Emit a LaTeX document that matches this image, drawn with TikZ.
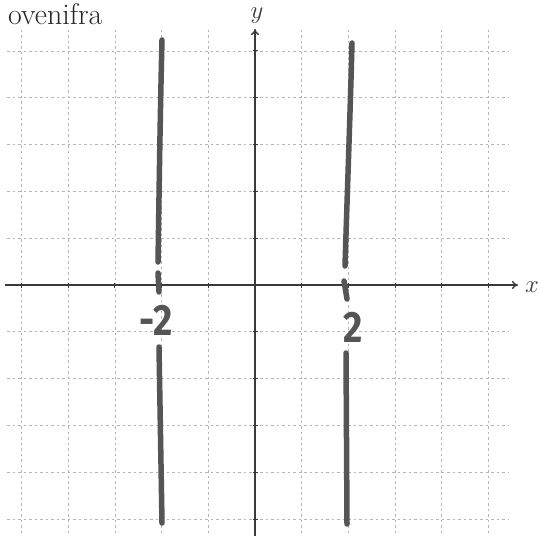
\documentclass[tikz,border=0pt]{standalone}
\usepackage{fontspec}
\newfontfamily\handfont{Fira Sans}
\usetikzlibrary{arrows.meta}
\definecolor{gridgray}{HTML}{B4B4B4}
\definecolor{axisgray}{HTML}{3A3A3A}
\definecolor{penGray}{HTML}{555555}
\tikzset{
  gridline/.style={gridgray, line width=0.8bp, dash pattern=on 2.5bp off 3bp},
  axisline/.style={axisgray, line width=1.4bp, -{To[length=6bp,width=8bp]}},
  tickline/.style={axisgray, line width=1bp},
  penline/.style={penGray, line width=5.5bp, line cap=round},
  handlabel/.style={penGray, inner sep=0pt, font=\handfont\bfseries\fontsize{44}{48}\selectfont},
  axislabel/.style={axisgray, inner sep=0pt, font=\fontsize{26}{30}\selectfont},
  titlelabel/.style={black!85, inner sep=0pt, anchor=base west, font=\fontsize{30}{34}\selectfont}
}
\begin{document}
\begin{tikzpicture}[x=1bp,y=-1bp]
\useasboundingbox[fill=white] (0,0) rectangle (539,537);
% grid
\foreach \k in {-5,...,5} {
  \draw[gridline] ({255+46.7*\k},30) -- ({255+46.7*\k},536);
  \draw[gridline] (7,{285+46.8*\k}) -- (508,{285+46.8*\k});
}
% axes
\coordinate (xs) at (5,285);
\coordinate (xe) at (518,285);
\coordinate (ys) at (255,536);
\coordinate (ye) at (255,29);
\draw[axisline] (xs) -- (xe);
\draw[axisline] (ys) -- (ye);
\foreach \k in {-5,...,-1,1,2,...,5} {
  \draw[tickline] ({255+46.7*\k},282.5) -- ({255+46.7*\k},287.5);
  \draw[tickline] (252.5,{285+46.8*\k}) -- (257.5,{285+46.8*\k});
}
\node[axislabel, anchor=base] (xl) at (532,292) {$x$};
\node[axislabel, anchor=base] (yl) at (257,19) {$y$};
\node[titlelabel] (title) at (8,25) {ovenifra};
% hand-drawn lines x = -2
\coordinate (a1) at (162,40);
\coordinate (a2) at (158,262);
\coordinate (a3) at (158,273);
\coordinate (a4) at (159,292);
\coordinate (a5) at (159,347);
\coordinate (a6) at (162,523);
\draw[penline] (a1) .. controls (160,120) and (159,200) .. (a2);
\draw[penline] (a3) -- (a4);
\draw[penline] (a5) -- (a6);
% hand-drawn lines x = 2
\coordinate (b1) at (352,43);
\coordinate (b2) at (345,266);
\coordinate (b3) at (344,281);
\coordinate (b4) at (347,299);
\coordinate (b5) at (346,353);
\coordinate (b6) at (347,524);
\draw[penline] (b1) .. controls (350,120) and (347,200) .. (b2);
\draw[penline] (b3) -- (b4);
\draw[penline] (b5) -- (b6);
% labels
\node[handlabel] (lm2) at (156,320) {\scalebox{0.85}[1]{-2}};
\node[handlabel] (lp2) at (353,327) {\scalebox{0.85}[1]{2}};
\end{tikzpicture}
\end{document}
